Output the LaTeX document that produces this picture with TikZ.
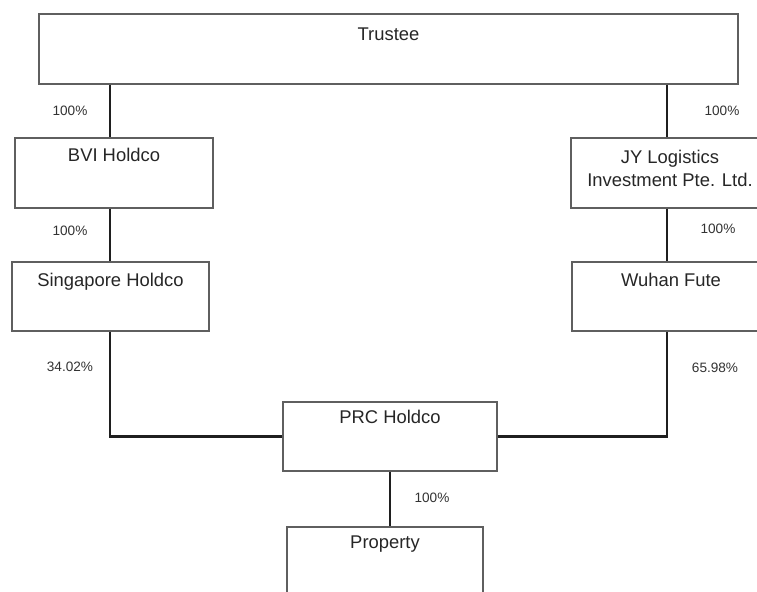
\documentclass[tikz,border=0pt]{standalone}
\usepackage{fontspec}
\setmainfont{Liberation Sans}
\begin{document}
\begin{tikzpicture}[x=0.75pt,y=-0.75pt,
  box/.style 2 args={draw=boxgray, line width=0.9pt, fill=white, inner sep=0pt, minimum width=#1*0.75pt, minimum height=#2*0.75pt},
  boxtext/.style={inner sep=0pt, text=black!85, font=\fontsize{13.8}{18}\selectfont},
  pct/.style={inner sep=0pt, text=black!80, font=\fontsize{10.2}{12}\selectfont},
  conn/.style={line width=1.9pt, draw=black!88}]
\definecolor{boxgray}{RGB}{95,95,95}
\useasboundingbox (0,0) rectangle (757,592);
\fill[white] (0,0) rectangle (757,592);
\clip (0,0) rectangle (757,592);

% column coordinates
\coordinate (lx) at (110,0);
\coordinate (rx) at (667,0);

% boxes
\node[box={699}{70}] (trustee) at (388.5,49) {};
\node[box={198}{70}] (bvi) at (114,173) {};
\node[box={197}{69}] (sing) at (110.5,296.5) {};
\node[box={198}{70}] (jy) at (670,173) {};
\node[box={198}{69}] (wuhan) at (671,296.5) {};
\node[box={214}{69}] (prc) at (390,436.5) {};
\node[box={196}{70}] (prop) at (385,562) {};

% box texts
\node[boxtext, anchor=base] at ([yshift=-20.25pt]trustee.north) {Trustee};
\node[boxtext, anchor=base] at ([yshift=-18pt]bvi.north) {BVI Holdco};
\node[boxtext, anchor=base] at ([yshift=-18.5pt]sing.north) {Singapore Holdco};
\node[boxtext, anchor=north, align=center] at ([yshift=-9.5pt]jy.north) {JY Logistics\\[-0.5pt]Investment Pte. Ltd.};
\node[boxtext, anchor=base] at ([yshift=-18.5pt]wuhan.north) {Wuhan Fute};
\node[boxtext, anchor=base] at ([yshift=-16.5pt]prc.north) {PRC Holdco};
\node[boxtext, anchor=base] at ([yshift=-16.5pt]prop.north) {Property};

% connectors
\draw[conn] (trustee.south -| lx) -- (bvi.north -| lx);
\draw[conn] (bvi.south -| lx) -- (sing.north -| lx);
\draw[conn] (sing.south -| lx) |- (prc.west);
\draw[conn] (trustee.south -| rx) -- (jy.north -| rx);
\draw[conn] (jy.south -| rx) -- (wuhan.north -| rx);
\draw[conn] (wuhan.south -| rx) |- (prc.east);
\draw[conn] (prc.south) -- (prc.south |- prop.north);

% percentages
\node[pct] (p1) at (70,111) {100\%};
\node[pct] (p2) at (70,231) {100\%};
\node[pct] (p3) at (70,367) {34.02\%};
\node[pct] (p4) at (722,111) {100\%};
\node[pct] (p5) at (718,229) {100\%};
\node[pct] (p6) at (715,368) {65.98\%};
\node[pct] (p7) at (432,498) {100\%};
\end{tikzpicture}
\end{document}
